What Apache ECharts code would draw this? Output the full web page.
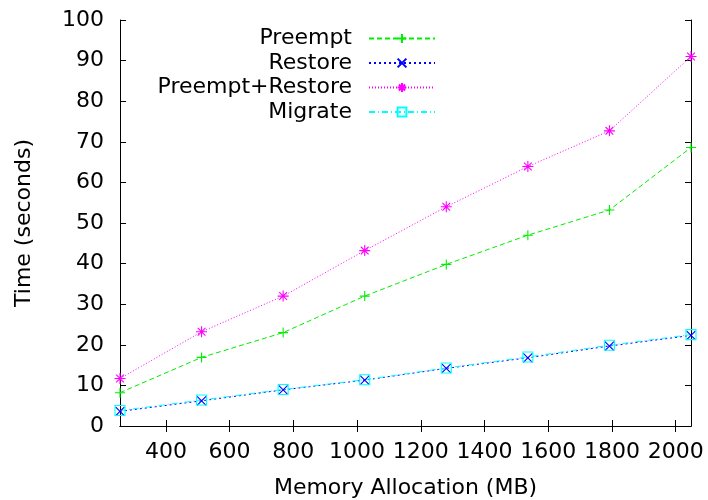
<!DOCTYPE html>
<html>
<head>
<meta charset="utf-8">
<script src="https://cdn.jsdelivr.net/npm/echarts@6/dist/echarts.min.js"></script>
<style>
  html, body { margin: 0; padding: 0; background: #fff; }
  #chart { width: 708px; height: 500px; }
</style>
</head>
<body>
<div id="chart"></div>
<script>
// Memory allocation sizes (MB) and measured times (seconds)
const memoryMB = [256, 512, 768, 1024, 1280, 1536, 1792, 2048];
const preempt = [8.2, 16.9, 23.0, 32.0, 39.8, 47.0, 53.2, 68.6];
const restore = [3.6, 6.2, 8.9, 11.3, 14.2, 16.8, 19.7, 22.3];
const preemptRestore = [11.7, 23.2, 32.0, 43.2, 54.0, 63.9, 72.7, 91.0];
const migrate = [3.8, 6.4, 9.0, 11.4, 14.3, 17.0, 19.9, 22.5];
const seriesNames = ['Preempt', 'Restore', 'Preempt+Restore', 'Migrate'];
const xTicks = [400, 600, 800, 1000, 1200, 1400, 1600, 1800, 2000];

const FONT = 'DejaVu Sans';
const FS = 22;

const SYM_PLUS = 'path://M5 0L5 10M0 5L10 5';
const SYM_CROSS = 'path://M0 0L10 10M10 0L0 10';
const SYM_STAR = 'path://M5 0L5 10M0 5L10 5M1.5 1.5L8.5 8.5M8.5 1.5L1.5 8.5';
const SYM_SQUARE = 'path://M0 0L10 0L10 10L0 10Z';

const styles = [
  { color: '#00ee00', dash: [5, 3], symbol: SYM_PLUS, size: 10, fill: '#00ee00' },
  { color: '#0000ff', dash: [2, 3], symbol: SYM_CROSS, size: 9, fill: '#0000ff' },
  { color: '#ff00ff', dash: [1, 2], symbol: SYM_STAR, size: 11, fill: '#ff00ff' },
  { color: '#00ffff', dash: [6, 3, 1, 3], symbol: SYM_SQUARE, size: 10, fill: 'rgba(0,0,0,0)' }
];
const values = [preempt, restore, preemptRestore, migrate];

const pairs = arr => memoryMB.map((m, i) => [m, arr[i]]);

const series = seriesNames.map((name, i) => ({
  name: name,
  type: 'line',
  data: pairs(values[i]),
  symbol: styles[i].symbol,
  symbolSize: styles[i].size,
  clip: false,
  lineStyle: { color: styles[i].color, width: 1, type: styles[i].dash },
  itemStyle: { color: styles[i].fill, borderColor: styles[i].color, borderWidth: 1.1 },
  emphasis: { disabled: true }
}));

// one legend block per series so the labels right-align against the samples
const legendCenters = [39, 63.5, 88, 112.5];
const legend = seriesNames.map((name, i) => ({
  data: [name],
  selectedMode: false,
  right: 272,
  top: legendCenters[i] - 11.5,
  align: 'right',
  padding: 0,
  itemWidth: 66,
  itemHeight: 11,
  textStyle: { fontFamily: FONT, fontSize: FS, color: '#000', padding: [0, 12, 0, 0] }
}));

const axisLine = { show: true, lineStyle: { color: '#000', width: 1 } };
const textStyle = { fontFamily: FONT, fontSize: FS, color: '#000' };
const plain = v => String(v);

const option = {
  animation: false,
  backgroundColor: '#fff',
  textStyle: { fontFamily: FONT },
  grid: { left: 120, right: 17, top: 20, bottom: 74, containLabel: false, outerBoundsMode: 'none' },
  legend: legend,
  xAxis: [
    {
      type: 'value', min: 256, max: 2048, position: 'bottom',
      axisLine: axisLine,
      axisTick: { show: true, inside: true, length: 6, customValues: xTicks, lineStyle: { color: '#000' } },
      axisLabel: Object.assign({ customValues: xTicks, margin: 15, formatter: plain }, textStyle),
      splitLine: { show: false },
      name: 'Memory Allocation (MB)', nameLocation: 'middle', nameGap: 51,
      nameTextStyle: textStyle
    },
    {
      type: 'value', min: 256, max: 2048, position: 'top',
      axisLine: axisLine,
      axisTick: { show: true, inside: true, length: 6, customValues: xTicks, lineStyle: { color: '#000' } },
      axisLabel: { show: false },
      splitLine: { show: false }
    }
  ],
  yAxis: [
    {
      type: 'value', min: 0, max: 100, interval: 10, position: 'left',
      axisLine: axisLine,
      axisTick: { show: true, inside: true, length: 6, lineStyle: { color: '#000' } },
      axisLabel: Object.assign({ margin: 16, formatter: plain }, textStyle),
      splitLine: { show: false },
      name: 'Time (seconds)', nameLocation: 'middle', nameGap: 85, nameRotate: 90,
      nameTextStyle: textStyle
    },
    {
      type: 'value', min: 0, max: 100, interval: 10, position: 'right',
      axisLine: axisLine,
      axisTick: { show: true, inside: true, length: 6, lineStyle: { color: '#000' } },
      axisLabel: { show: false },
      splitLine: { show: false }
    }
  ],
  series: series
};

const chart = echarts.init(document.getElementById('chart'), null, { renderer: 'canvas' });
chart.setOption(option);
</script>
</body>
</html>
